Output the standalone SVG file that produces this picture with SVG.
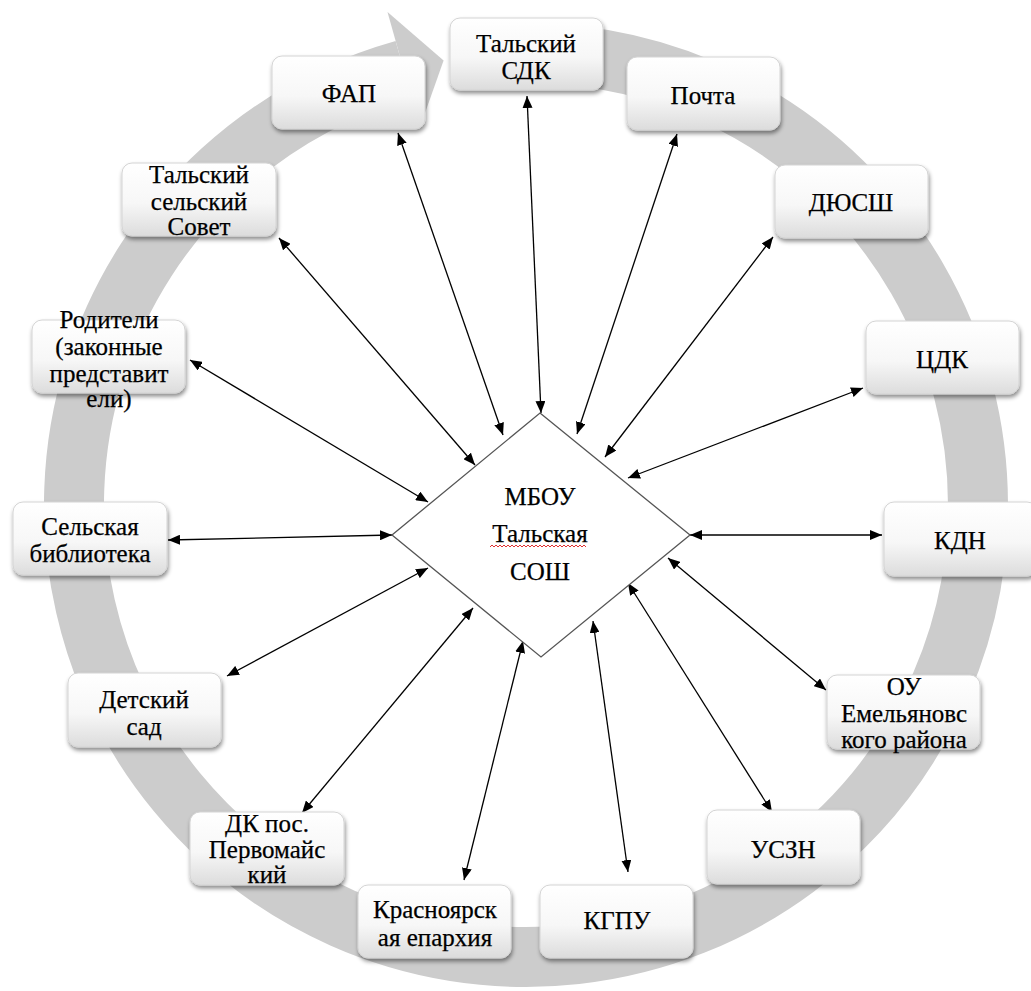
<svg xmlns="http://www.w3.org/2000/svg" width="1031" height="991" viewBox="0 0 1031 991">
<defs>
<linearGradient id="boxg" x1="0" y1="0" x2="0" y2="1">
<stop offset="0" stop-color="#ffffff"/>
<stop offset="0.55" stop-color="#f7f7f7"/>
<stop offset="1" stop-color="#dcdcdc"/>
</linearGradient>
<filter id="sh" x="-10%" y="-10%" width="125%" height="135%">
<feDropShadow dx="1" dy="3" stdDeviation="2" flood-color="#000" flood-opacity="0.45"/>
</filter>
<marker id="ah" viewBox="0 0 12 10" refX="12" refY="5" markerWidth="12" markerHeight="10" markerUnits="userSpaceOnUse" orient="auto-start-reverse">
<path d="M0,0 L12,5 L0,10 Z" fill="#000"/>
</marker>
</defs>
<style>
.box{fill:url(#boxg);stroke:#d4d4d4;stroke-width:1;filter:url(#sh)}
.t{font-family:'Liberation Serif','Times New Roman',serif;font-size:25px;fill:#000;stroke:#000;stroke-width:0.25;text-anchor:middle}
.c{stroke:#000;stroke-width:1.3;fill:none;marker-start:url(#ah);marker-end:url(#ah)}
</style>
<rect width="1031" height="991" fill="#fff"/>
<g id="ring">
<path d="M 549.66 53.62 A 452 452 0 1 1 403.69 69.86" fill="none" stroke="#cccccc" stroke-width="60"/>
<polygon points="387.5,12.1 443.6,60.6 419.9,127.6" fill="#cccccc"/>
</g>
<g id="connectors">
<line class="c" x1="527" y1="96" x2="541" y2="413"/>
<line class="c" x1="677" y1="134" x2="577" y2="434"/>
<line class="c" x1="773" y1="237" x2="605" y2="457"/>
<line class="c" x1="863" y1="388" x2="628" y2="478"/>
<line class="c" x1="882" y1="535" x2="690" y2="535"/>
<line class="c" x1="826" y1="690" x2="668" y2="558"/>
<line class="c" x1="772" y1="812" x2="628" y2="583"/>
<line class="c" x1="628" y1="872" x2="593" y2="621"/>
<line class="c" x1="464" y1="880" x2="523" y2="641"/>
<line class="c" x1="302" y1="813" x2="473" y2="608"/>
<line class="c" x1="227" y1="676" x2="428" y2="568"/>
<line class="c" x1="168" y1="540" x2="392" y2="535"/>
<line class="c" x1="190" y1="360" x2="428" y2="502"/>
<line class="c" x1="279" y1="238" x2="475" y2="465"/>
<line class="c" x1="398" y1="133" x2="503" y2="435"/>
</g>
<g id="center">
<polygon points="540,413 690,535 541,657 392,535" fill="#fff" stroke="#555" stroke-width="1.3"/>
<text class="t" x="540" y="505">МБОУ</text>
<text class="t" x="540" y="542">Тальская</text>
<text class="t" x="540" y="580">СОШ</text>
<path d="M490,547 l2,-2 l2,2 l2,-2 l2,2 l2,-2 l2,2 l2,-2 l2,2 l2,-2 l2,2 l2,-2 l2,2 l2,-2 l2,2 l2,-2 l2,2 l2,-2 l2,2 l2,-2 l2,2 l2,-2 l2,2 l2,-2 l2,2 l2,-2 l2,2 l2,-2 l2,2 l2,-2 l2,2 l2,-2 l2,2 l2,-2 l2,2 l2,-2 l2,2 l2,-2 l2,2 l2,-2 l2,2 l2,-2 l2,2 l2,-2 l2,2 l2,-2 l2,2 l2,-2 l2,2" fill="none" stroke="#e03030" stroke-width="1"/>
</g>
<g id="n1"><rect class="box" x="450" y="18" width="153" height="72" rx="10"/><text class="t" x="526" y="52">Тальский</text><text class="t" x="526" y="79">СДК</text></g>
<g id="n2"><rect class="box" x="627" y="57" width="153" height="73" rx="10"/><text class="t" x="703" y="104">Почта</text></g>
<g id="n3"><rect class="box" x="775" y="165" width="153" height="73" rx="10"/><text class="t" x="851" y="211">ДЮСШ</text></g>
<g id="n4"><rect class="box" x="866" y="321" width="153" height="73" rx="10"/><text class="t" x="942" y="368">ЦДК</text></g>
<g id="n5"><rect class="box" x="884" y="502" width="153" height="74" rx="10"/><text class="t" x="960" y="549">КДН</text></g>
<g id="n6"><rect class="box" x="827" y="675" width="153" height="74" rx="10"/><text class="t" x="904" y="695">ОУ</text><text class="t" x="904" y="722">Емельяновс</text><text class="t" x="904" y="748">кого района</text></g>
<g id="n7"><rect class="box" x="707" y="810" width="153" height="74" rx="10"/><text class="t" x="783" y="858">УСЗН</text></g>
<g id="n8"><rect class="box" x="540" y="885" width="153" height="73" rx="10"/><text class="t" x="617" y="929">КГПУ</text></g>
<g id="n9"><rect class="box" x="358" y="885" width="153" height="73" rx="10"/><text class="t" x="435" y="918">Красноярск</text><text class="t" x="435" y="946">ая епархия</text></g>
<g id="n10"><rect class="box" x="190" y="812" width="154" height="73" rx="10"/><text class="t" x="267" y="832">ДК пос.</text><text class="t" x="267" y="858">Первомайс</text><text class="t" x="267" y="883">кий</text></g>
<g id="n11"><rect class="box" x="68" y="673" width="153" height="74" rx="10"/><text class="t" x="144" y="708">Детский</text><text class="t" x="144" y="735">сад</text></g>
<g id="n12"><rect class="box" x="13" y="502" width="154" height="73" rx="10"/><text class="t" x="90" y="535">Сельская</text><text class="t" x="90" y="562">библиотека</text></g>
<g id="n13"><rect class="box" x="32" y="320" width="153" height="73" rx="10"/><text class="t" x="109" y="328">Родители</text><text class="t" x="109" y="355">(законные</text><text class="t" x="109" y="382">представит</text><text class="t" x="109" y="407">ели)</text></g>
<g id="n14"><rect class="box" x="122" y="163" width="154" height="73" rx="10"/><text class="t" x="199" y="183">Тальский</text><text class="t" x="199" y="210">сельский</text><text class="t" x="199" y="235">Совет</text></g>
<g id="n15"><rect class="box" x="272" y="56" width="153" height="73" rx="10"/><text class="t" x="349" y="102">ФАП</text></g>
</svg>
